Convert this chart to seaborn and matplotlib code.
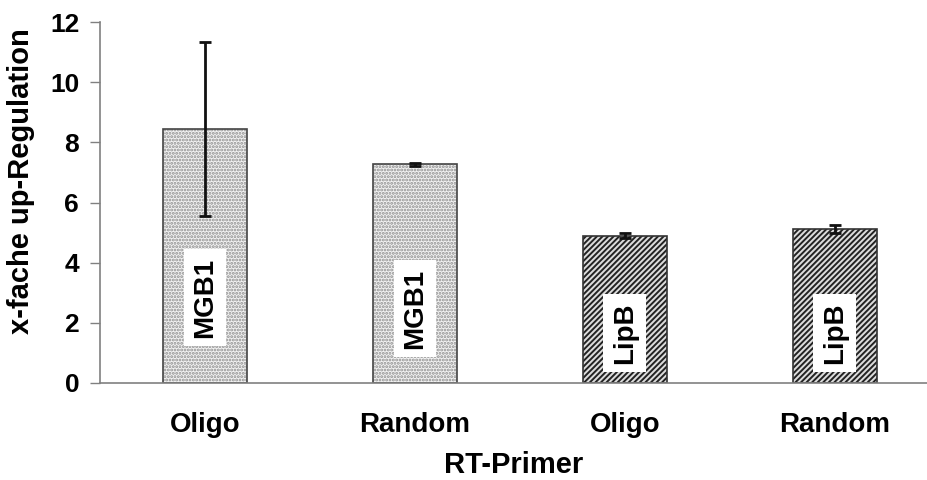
import matplotlib
matplotlib.use("Agg")
import matplotlib.pyplot as plt
import seaborn as sns
import pandas as pd

# Data
primers = ["Oligo", "Random", "Oligo", "Random"]
genes = ["MGB1", "MGB1", "LipB", "LipB"]
values = [8.45, 7.27, 4.9, 5.12]
errors = [2.9, 0.05, 0.08, 0.13]
label_y = [2.83, 2.47, 1.67, 1.65]
yticks = [0, 2, 4, 6, 8, 10, 12]

sns.set_theme(style="white")
plt.rcParams['font.family'] = ['Liberation Sans', 'DejaVu Sans']
plt.rcParams['hatch.linewidth'] = 1.4
plt.rcParams['text.color'] = 'black'
plt.rcParams['axes.labelcolor'] = 'black'

df = pd.DataFrame({"pos": [f"{p}_{i}" for i, p in enumerate(primers)],
                   "value": values, "gene": genes})

fig = plt.figure(figsize=(9.27, 4.8), dpi=100)
ax = fig.add_axes([100/927, (480-383)/480, (927-100)/927, (383-22)/480])

sns.barplot(data=df, x="pos", y="value", ax=ax, width=0.4, errorbar=None,
            color="white", edgecolor="#333333", linewidth=1.2, zorder=2)

for patch, g in zip(ax.patches, genes):
    if g == "MGB1":
        patch.set_facecolor("#f2f2f2")
        patch.set_hatch(".....")
        patch.set_edgecolor("#444444")
        patch._hatch_color = matplotlib.colors.to_rgba("#8f8f8f")
    else:
        patch.set_facecolor("#dcdcdc")
        patch.set_hatch("//////")
        patch.set_edgecolor("#333333")
        patch._hatch_color = matplotlib.colors.to_rgba("#222222")

xs = list(range(len(values)))
ax.errorbar(xs, values, yerr=errors, fmt="none", ecolor="#111111",
            elinewidth=2, capsize=4, capthick=2, zorder=3)

for x, g, ly in zip(xs, genes, label_y):
    ax.text(x, ly, g, rotation=90, ha="center", va="center", fontsize=20,
            fontweight="bold", color="black", zorder=4,
            bbox=dict(boxstyle="square,pad=0.3", facecolor="white", edgecolor="none"))

ax.set_xlim(-0.5, 3.44)
ax.set_ylim(0, 12)
ax.set_yticks(yticks)
ax.set_yticklabels([str(t) for t in yticks], fontsize=19, fontweight="bold")
ax.set_xticks(xs)
ax.set_xticklabels(primers, fontsize=20, fontweight="bold")
ax.tick_params(axis="y", length=7, width=1, color="#808080", labelcolor="black", pad=8, left=True)
ax.tick_params(axis="x", length=0, pad=21, labelcolor="black")
ax.set_xlabel("RT-Primer", fontsize=21, fontweight="bold", labelpad=9)
ax.set_ylabel("x-fache up-Regulation", fontsize=21, fontweight="bold")
ax.yaxis.set_label_coords(-0.078, 0.56)

sns.despine(ax=ax)
for s in ["left", "bottom"]:
    ax.spines[s].set_color("#808080")
    ax.spines[s].set_linewidth(1.2)

fig.savefig("out.png", dpi=100)
